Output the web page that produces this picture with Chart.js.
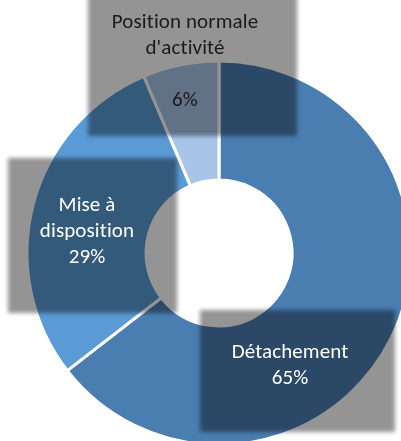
<!DOCTYPE html>
<html>
<head>
<meta charset="utf-8">
<script src="https://cdn.jsdelivr.net/npm/chart.js@4/dist/chart.umd.min.js"></script>
<style>
html,body{margin:0;padding:0;background:#fff;width:401px;height:441px;overflow:hidden;position:relative;}
#wrap{position:absolute;left:0;top:0;width:420px;height:460px;}
</style>
</head>
<body>
<div id="wrap"><canvas id="c" width="420" height="460"></canvas></div>
<script>
// ---- data ----
const categories = ["Détachement", "Mise à disposition", "Position normale d'activité"];
const values = [64.5, 29.1, 6.4];
const labelLines = [["Détachement"], ["Mise à", "disposition"], ["Position normale", "d'activité", ""]];
const colors = ["#4A7EB1", "#5B9BD5", "#A8C4E7"];

// ---- label layout (offsets from chart centre, px) ----
const labelLayout = [
  { tx: 71, ty0: 105, box: [-19, 57, 176, 179], color: "#ffffff" },
  { tx: -132, ty0: -42, box: [-211, -95, -42, 60], color: "#ffffff" },
  { tx: -34, ty0: -225, box: [-131, -270, 78, -117], color: "#1a1a1a" }
];
const lineH = 26;
const FONT = '21px Carlito, Lato, "Open Sans", sans-serif';

const labelPlugin = {
  id: 'boxLabels',
  afterDatasetsDraw(chart) {
    const ctx = chart.ctx;
    const meta = chart.getDatasetMeta(0);
    const total = values.reduce((a, b) => a + b, 0);
    meta.data.forEach((arc, i) => {
      const cx = arc.x, cy = arc.y;
      const L = labelLayout[i];
      ctx.save();
      ctx.filter = 'blur(2px)';
      ctx.fillStyle = 'rgba(0,0,0,0.42)';
      ctx.fillRect(cx + L.box[0], cy + L.box[1], L.box[2] - L.box[0], L.box[3] - L.box[1]);
      ctx.restore();
      ctx.save();
      ctx.font = FONT;
      if ('letterSpacing' in ctx) ctx.letterSpacing = '0.1px';
      ctx.fillStyle = L.color;
      ctx.textAlign = 'center';
      ctx.textBaseline = 'alphabetic';
      const lines = labelLines[i].concat([Math.round(values[i] / total * 100) + '%']);
      lines.forEach((t, k) => {
        if (t) ctx.fillText(t, cx + L.tx, cy + L.ty0 + k * lineH);
      });
      ctx.restore();
    });
  }
};

new Chart(document.getElementById('c'), {
  type: 'doughnut',
  data: {
    labels: categories,
    datasets: [{
      data: values,
      backgroundColor: colors,
      borderColor: '#ffffff',
      borderWidth: 3
    }]
  },
  options: {
    responsive: false,
    animation: false,
    cutout: '38%',
    layout: { padding: { left: 25.5, top: 59.5, right: 7.5, bottom: 13.5 } },
    plugins: { legend: { display: false }, tooltip: { enabled: false } }
  },
  plugins: [labelPlugin]
});
</script>
</body>
</html>
